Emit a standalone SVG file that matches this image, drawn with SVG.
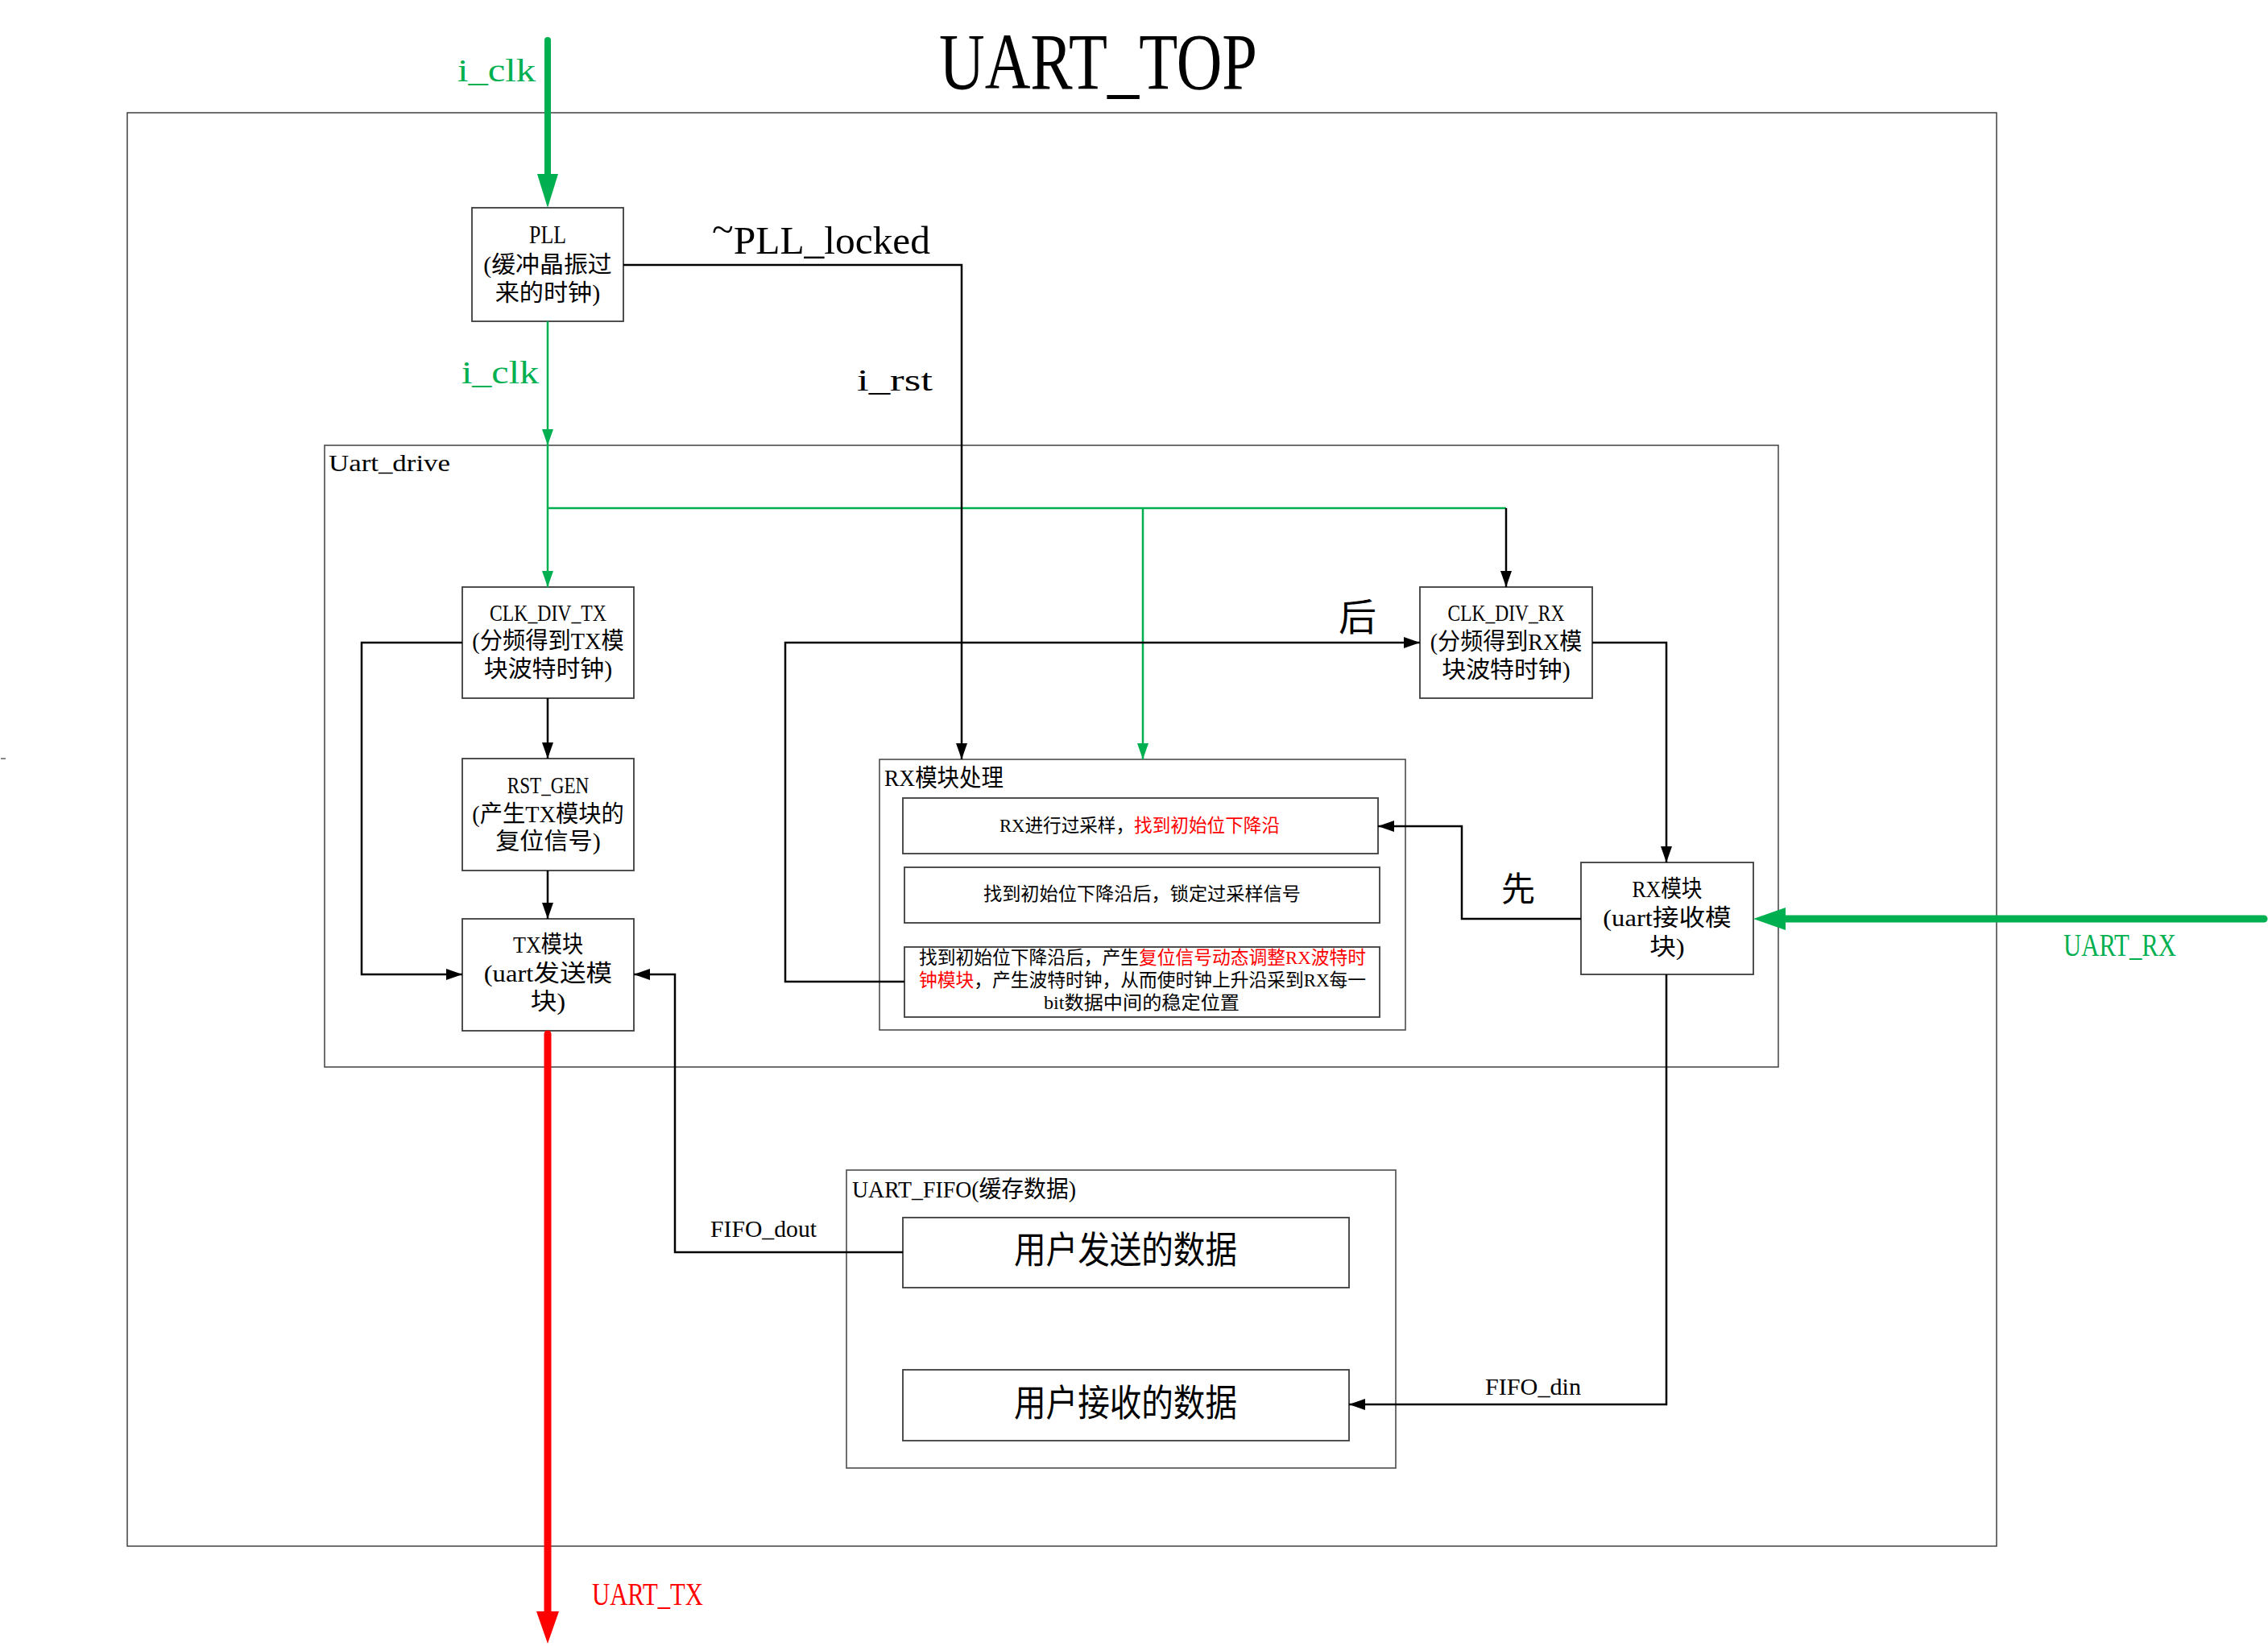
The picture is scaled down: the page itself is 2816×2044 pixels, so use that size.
<svg xmlns="http://www.w3.org/2000/svg" width="2816" height="2044" viewBox="0 0 2816 2044">
<style>
  text { font-family: "Liberation Serif", "Noto Sans CJK SC", serif; fill: #000; }
  .box { fill: #fff; stroke: #3c3c3c; stroke-width: 1.8; }
  .frame { fill: none; stroke: #404040; stroke-width: 1.5; }
  .blk { fill: none; stroke: #000; stroke-width: 2.5; }
  .grn { fill: none; stroke: #00B050; stroke-width: 2.5; }
  .grnT { fill: none; stroke: #00B050; stroke-width: 8; stroke-linecap: round; }
  .redT { fill: none; stroke: #FF0000; stroke-width: 9; stroke-linecap: round; }
  .g { fill: #00B050; }
  .r { fill: #FF0000; }
</style>
<defs>
  <marker id="ab" markerUnits="userSpaceOnUse" viewBox="0 0 20 14" markerWidth="20" markerHeight="14" refX="20" refY="7" orient="auto">
    <path d="M0,0 L20,7 L0,14 z" fill="#000"/>
  </marker>
  <marker id="ag" markerUnits="userSpaceOnUse" viewBox="0 0 20 14" markerWidth="20" markerHeight="14" refX="20" refY="7" orient="auto">
    <path d="M0,0 L20,7 L0,14 z" fill="#00B050"/>
  </marker>
  <marker id="agBig" markerUnits="userSpaceOnUse" viewBox="0 0 42 26" markerWidth="42" markerHeight="26" refX="0" refY="13" orient="auto">
    <path d="M0,0 L42,13 L0,26 z" fill="#00B050"/>
  </marker>
  <marker id="agBig2" markerUnits="userSpaceOnUse" viewBox="0 0 40 28" markerWidth="40" markerHeight="28" refX="0" refY="14" orient="auto">
    <path d="M0,0 L40,14 L0,28 z" fill="#00B050"/>
  </marker>
  <marker id="arBig" markerUnits="userSpaceOnUse" viewBox="0 0 40 28" markerWidth="40" markerHeight="28" refX="0" refY="14" orient="auto">
    <path d="M0,0 L40,14 L0,28 z" fill="#FF0000"/>
  </marker>
</defs>
<rect x="0" y="0" width="2816" height="2044" fill="#fff"/>

<text x="1166" y="110" font-size="99" textLength="395" lengthAdjust="spacingAndGlyphs">UART_TOP</text>

<g id="uart_top_frame">
  <rect class="frame" x="158" y="140" width="2321" height="1780"/>
</g>
<line x1="1" y1="942" x2="7" y2="942" stroke="#888" stroke-width="2"/>

<g id="uart_drive">
  <rect class="frame" x="403" y="553" width="1805" height="772"/>
  <text x="408" y="585" font-size="30" textLength="151" lengthAdjust="spacingAndGlyphs">Uart_drive</text>
</g>

<g id="rx_proc">
  <rect class="frame" x="1092" y="943" width="653" height="336"/>
  <text x="1098" y="976" font-size="30" textLength="148" lengthAdjust="spacingAndGlyphs">RX模块处理</text>
</g>
<g id="rx_step1">
  <rect class="box" x="1121" y="991" width="590" height="69"/>
  <text x="1241" y="1033" font-size="23" textLength="348" lengthAdjust="spacingAndGlyphs">RX进行过采样，<tspan class="r">找到初始位下降沿</tspan></text>
</g>
<g id="rx_step2">
  <rect class="box" x="1123" y="1077" width="590" height="69"/>
  <text x="1221" y="1118" font-size="23" textLength="394" lengthAdjust="spacingAndGlyphs">找到初始位下降沿后，锁定过采样信号</text>
</g>
<g id="rx_step3">
  <rect class="box" x="1123" y="1176" width="590" height="87"/>
  <text x="1141" y="1197" font-size="23" textLength="555" lengthAdjust="spacingAndGlyphs">找到初始位下降沿后，产生<tspan class="r">复位信号动态调整RX波特时</tspan></text>
  <text x="1141" y="1225" font-size="23" textLength="555" lengthAdjust="spacingAndGlyphs"><tspan class="r">钟模块</tspan>，产生波特时钟，从而使时钟上升沿采到RX每一</text>
  <text x="1296" y="1253" font-size="23" textLength="243" lengthAdjust="spacingAndGlyphs">bit数据中间的稳定位置</text>
</g>

<g id="uart_fifo">
  <rect class="frame" x="1051" y="1453" width="682" height="370"/>
  <text x="1058" y="1487" font-size="29" textLength="278" lengthAdjust="spacingAndGlyphs">UART_FIFO(缓存数据)</text>
</g>
<g id="fifo_send">
  <rect class="box" x="1121" y="1512" width="554" height="87"/>
  <text x="1259" y="1568" font-size="46" textLength="277" lengthAdjust="spacingAndGlyphs">用户发送的数据</text>
</g>
<g id="fifo_recv">
  <rect class="box" x="1121" y="1701" width="554" height="88"/>
  <text x="1259" y="1758" font-size="46" textLength="277" lengthAdjust="spacingAndGlyphs">用户接收的数据</text>
</g>

<g id="pll">
  <rect class="box" x="586" y="258" width="188" height="141"/>
  <text x="657" y="302" font-size="31" textLength="46" lengthAdjust="spacingAndGlyphs">PLL</text>
  <text x="600.25" y="339" font-size="29" textLength="159.5" lengthAdjust="spacingAndGlyphs">(缓冲晶振过</text>
  <text x="614.75" y="374" font-size="29" textLength="130.5" lengthAdjust="spacingAndGlyphs">来的时钟)</text>
</g>

<g id="clk_div_tx">
  <rect class="box" x="574" y="729" width="213" height="138"/>
  <text x="608" y="771" font-size="29" textLength="145" lengthAdjust="spacingAndGlyphs">CLK_DIV_TX</text>
  <text x="586.25" y="806" font-size="29" textLength="188.5" lengthAdjust="spacingAndGlyphs">(分频得到TX模</text>
  <text x="600.75" y="841" font-size="29" textLength="159.5" lengthAdjust="spacingAndGlyphs">块波特时钟)</text>
</g>

<g id="rst_gen">
  <rect class="box" x="574" y="942" width="213" height="139"/>
  <text x="629.75" y="985" font-size="29" textLength="101.5" lengthAdjust="spacingAndGlyphs">RST_GEN</text>
  <text x="586.25" y="1021" font-size="29" textLength="188.5" lengthAdjust="spacingAndGlyphs">(产生TX模块的</text>
  <text x="615.25" y="1055" font-size="29" textLength="130.5" lengthAdjust="spacingAndGlyphs">复位信号)</text>
</g>

<g id="tx_module">
  <rect class="box" x="574" y="1141" width="213" height="139"/>
  <text x="637" y="1183" font-size="29" textLength="87" lengthAdjust="spacingAndGlyphs">TX模块</text>
  <text x="600.75" y="1219" font-size="29" textLength="159.5" lengthAdjust="spacingAndGlyphs">(uart发送模</text>
  <text x="658.75" y="1254" font-size="29" textLength="43.5" lengthAdjust="spacingAndGlyphs">块)</text>
</g>

<g id="clk_div_rx">
  <rect class="box" x="1763" y="729" width="214" height="138"/>
  <text x="1797.5" y="771" font-size="29" textLength="145" lengthAdjust="spacingAndGlyphs">CLK_DIV_RX</text>
  <text x="1775.75" y="807" font-size="29" textLength="188.5" lengthAdjust="spacingAndGlyphs">(分频得到RX模</text>
  <text x="1790.25" y="842" font-size="29" textLength="159.5" lengthAdjust="spacingAndGlyphs">块波特时钟)</text>
</g>

<g id="rx_module">
  <rect class="box" x="1963" y="1071" width="214" height="139"/>
  <text x="2026.5" y="1114" font-size="29" textLength="87" lengthAdjust="spacingAndGlyphs">RX模块</text>
  <text x="1990.25" y="1150" font-size="29" textLength="159.5" lengthAdjust="spacingAndGlyphs">(uart接收模</text>
  <text x="2048.25" y="1186" font-size="29" textLength="43.5" lengthAdjust="spacingAndGlyphs">块)</text>
</g>

<g id="connectors">
  <path class="grnT" d="M680,50 L680,216" marker-end="url(#agBig)"/>
  <path class="grn" d="M680,399 L680,553" marker-end="url(#ag)"/>
  <path class="grn" d="M680,553 L680,729" marker-end="url(#ag)"/>
  <path class="grn" d="M680,631 L1870,631"/>
  <path class="grn" d="M1419,631 L1419,943" marker-end="url(#ag)"/>
  <path class="blk" d="M1870,631 L1870,729" marker-end="url(#ab)"/>
  <path class="blk" d="M774,329 L1194,329 L1194,943" marker-end="url(#ab)"/>
  <path class="blk" d="M680,867 L680,942" marker-end="url(#ab)"/>
  <path class="blk" d="M680,1081 L680,1141" marker-end="url(#ab)"/>
  <path class="blk" d="M574,798 L449,798 L449,1210 L574,1210" marker-end="url(#ab)"/>
  <path class="blk" d="M1121,1555 L838,1555 L838,1210 L787,1210" marker-end="url(#ab)"/>
  <path class="blk" d="M1123,1219 L975,1219 L975,798 L1763,798" marker-end="url(#ab)"/>
  <path class="blk" d="M1977,798 L2069,798 L2069,1071" marker-end="url(#ab)"/>
  <path class="blk" d="M1963,1141 L1815,1141 L1815,1026 L1711,1026" marker-end="url(#ab)"/>
  <path class="blk" d="M2069,1210 L2069,1744 L1675,1744" marker-end="url(#ab)"/>
  <path class="grnT" style="stroke-width:9" d="M2811,1141 L2217,1141" marker-end="url(#agBig2)"/>
  <path class="redT" d="M680,1284 L680,2001" marker-end="url(#arBig)"/>

  <text class="g" x="568" y="101" font-size="39" textLength="97" lengthAdjust="spacingAndGlyphs">i_clk</text>
  <text class="g" x="573" y="476" font-size="39" textLength="96" lengthAdjust="spacingAndGlyphs">i_clk</text>
  <text x="884" y="315" font-size="49" textLength="271" lengthAdjust="spacingAndGlyphs"><tspan dy="-14">~</tspan><tspan dy="14">PLL_locked</tspan></text>
  <text x="1064" y="485" font-size="38" textLength="94" lengthAdjust="spacingAndGlyphs">i_rst</text>
  <text x="1662" y="783" font-size="47">后</text>
  <text x="1864" y="1119" font-size="42">先</text>
  <text class="g" x="2562" y="1187" font-size="40" textLength="140" lengthAdjust="spacingAndGlyphs">UART_RX</text>
  <text class="r" x="735" y="1993" font-size="40" textLength="138" lengthAdjust="spacingAndGlyphs">UART_TX</text>
  <text x="882" y="1536" font-size="29" textLength="132" lengthAdjust="spacingAndGlyphs">FIFO_dout</text>
  <text x="1844" y="1732" font-size="30" textLength="119" lengthAdjust="spacingAndGlyphs">FIFO_din</text>
</g>
</svg>
